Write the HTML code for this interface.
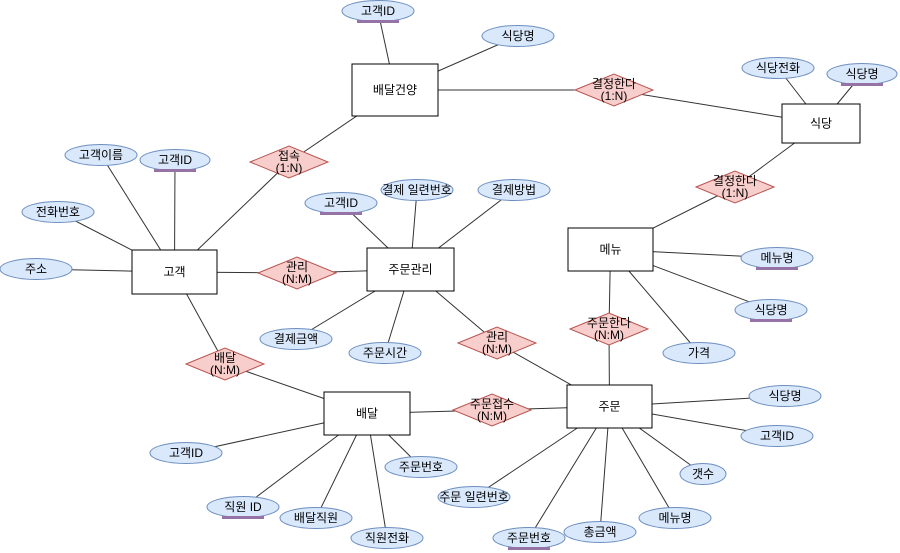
<!DOCTYPE html>
<html><head><meta charset="utf-8"><style>
html,body{margin:0;padding:0;background:#fff;width:900px;height:553px;overflow:hidden}
text{font-family:"Liberation Sans","Noto Sans CJK KR",sans-serif;font-size:12px;fill:#000}
</style></head><body>
<svg id="s" width="900" height="553" xmlns="http://www.w3.org/2000/svg"></svg>
<script>
const R={
bg:[352,64,438,116,"배달건양"],sd:[782,104,860,143,"식당"],gk:[132,250,217,294,"고객"],
jg:[367,248,454,291,"주문관리"],mn:[568,228,653,271,"메뉴"],bd:[324,392,410,435,"배달"],jm:[567,385,652,428,"주문"]};
const D={
d1:[289,162,"접속","(1:N)"],d2:[614,90,"결정한다","(1:N)"],d3:[735,187,"결정한다","(1:N)"],
d4:[297,273,"관리","(N:M)"],d5:[497,343,"관리","(N:M)"],d6:[609,329,"주문한다","(N:M)"],
d7:[225,364,"배달","(N:M)"],d8:[492,410,"주문접수","(N:M)"]};
const E={
e1:[378,11,36,"고객ID",1],e2:[518,36,36,"식당명"],e3:[778,68,36,"식당전화"],e4:[862,74,35,"식당명",1],
e5:[101,155,36,"고객이름"],e6:[175,160,35,"고객ID",1],e7:[58,212,36,"전화번호"],e8:[36,269,36,"주소"],
e9:[341,203,36,"고객ID",1],e10:[417,190,36,"결제 일련번호"],e11:[514,190,36,"결제방법"],
e12:[296,339,36,"결제금액"],e13:[385,353,36,"주문시간"],e14:[777,258,36,"메뉴명",1],
e15:[771,310,36,"식당명",1],e16:[699,353,36,"가격"],e17:[785,396,36,"식당명"],e18:[777,436,36,"고객ID"],
e19:[703,474,23,"갯수"],e20:[675,518,36,"메뉴명"],e21:[600,532,36,"총금액"],e22:[529,538,36,"주문번호",1],
e23:[474,497,36,"주문 일련번호"],e24:[186,453,36,"고객ID"],e25:[243,507,36,"직원 ID",1],
e26:[316,518,36,"배달직원"],e27:[387,538,36,"직원전화"],e28:[421,467,36,"주문번호"]};
const L=[["bg","e1"],["bg","e2"],["bg","d2"],["d2","sd"],["sd","e3"],["sd","e4"],["sd","d3"],["d3","mn"],
["bg","d1"],["d1","gk"],["gk","e5"],["gk","e6"],["gk","e7"],["gk","e8"],["gk","d4"],["d4","jg"],
["jg","e9"],["jg","e10"],["jg","e11"],["jg","e12"],["jg","e13"],["jg","d5"],["d5","jm"],
["mn","e14"],["mn","e15"],["mn","e16"],["mn","d6"],["d6","jm"],["jm","e17"],["jm","e18"],["jm","e19"],
["jm","e20"],["jm","e21"],["jm","e22"],["jm","e23"],["jm","d8"],["d8","bd"],["bd","d7"],["d7","gk"],
["bd","e24"],["bd","e25"],["bd","e26"],["bd","e27"],["bd","e28"]];
function c(k){if(R[k])return[(R[k][0]+R[k][2])/2,(R[k][1]+R[k][3])/2];if(D[k])return[D[k][0],D[k][1]];return[E[k][0],E[k][1]];}
let h="";
for(const [a,b] of L){const p=c(a),q=c(b);h+=`<line x1="${p[0]}" y1="${p[1]}" x2="${q[0]}" y2="${q[1]}" stroke="#333" stroke-width="1"/>`;}
for(const k in R){const r=R[k];h+=`<rect x="${r[0]}" y="${r[1]}" width="${r[2]-r[0]}" height="${r[3]-r[1]}" fill="#fff" stroke="#000"/><text x="${(r[0]+r[2])/2}" y="${(r[1]+r[3])/2+4}" text-anchor="middle">${r[4]}</text>`;}
for(const k in D){const [x,y,a,b]=D[k];h+=`<polygon points="${x-39},${y} ${x},${y-16} ${x+39},${y} ${x},${y+16}" fill="#f8cecc" stroke="#b85450"/><text x="${x}" y="${y-2}" text-anchor="middle">${a}</text><text x="${x}" y="${y+10}" text-anchor="middle">${b}</text>`;}
for(const k in E){const [x,y,rx,t,u]=E[k];h+=`<ellipse cx="${x}" cy="${y}" rx="${rx}" ry="10.5" fill="#dae8fc" stroke="#6c8ebf"/><text x="${x}" y="${y+4}" text-anchor="middle">${t}</text>`;
if(u)h+=`<rect x="${x-21}" y="${y+9}" width="42" height="3" fill="#9673a6"/>`;}
document.getElementById("s").innerHTML=h;
</script>
</body></html>
